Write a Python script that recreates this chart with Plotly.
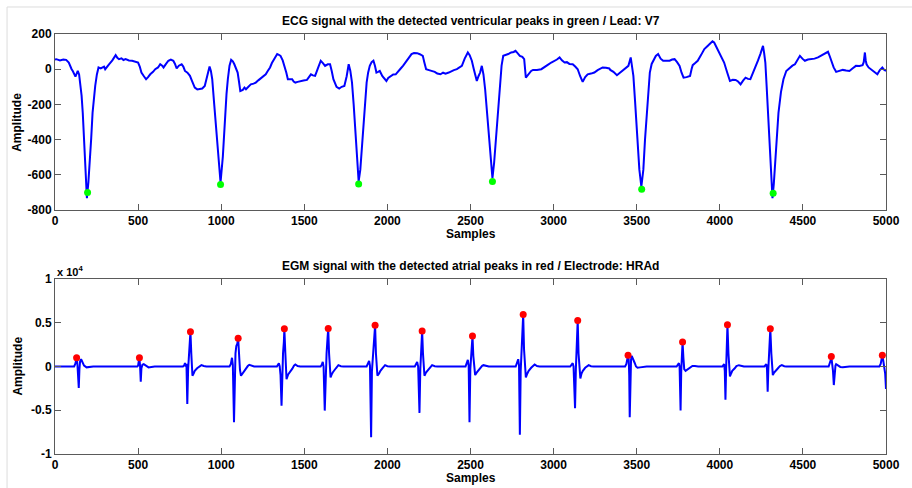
import plotly.graph_objects as go

# ---------------- ECG lead V7 (top panel) ----------------
ecg_samples = [
    0, 8, 30, 50, 67, 83, 100, 107, 123, 137, 145, 151, 160, 167, 175, 183, 192, 201, 210, 218,
    226, 234, 242, 252, 262, 275, 286, 295, 302, 312, 325, 345, 365, 375, 385, 400, 412, 425, 445, 464,
    485, 500, 510, 520, 535, 548, 560, 573, 590, 603, 620, 633, 645, 653, 668, 682, 697, 712, 722, 732,
    745, 762, 772, 782, 797, 812, 826, 841, 856, 871, 886, 901, 916, 930, 938, 946, 958, 970, 986, 996,
    1010, 1024, 1032, 1040, 1050, 1060, 1070, 1079, 1090, 1099, 1107, 1115, 1130, 1140, 1149, 1165, 1178, 1195, 1208, 1225,
    1238, 1255, 1268, 1280, 1294, 1305, 1317, 1327, 1337, 1347, 1357, 1370, 1381, 1392, 1401, 1415, 1427, 1436, 1446, 1460,
    1476, 1495, 1516, 1528, 1540, 1552, 1565, 1580, 1599, 1612, 1625, 1641, 1655, 1665, 1675, 1694, 1710, 1725, 1741, 1755,
    1767, 1777, 1787, 1797, 1807, 1821, 1827, 1837, 1855, 1865, 1875, 1884, 1894, 1905, 1916, 1925, 1934, 1944, 1954, 1970,
    1982, 1994, 2005, 2020, 2035, 2050, 2065, 2080, 2095, 2110, 2128, 2145, 2160, 2179, 2195, 2213, 2222, 2233, 2250, 2269,
    2285, 2300, 2319, 2335, 2350, 2369, 2385, 2400, 2418, 2433, 2448, 2465, 2484, 2495, 2508, 2520, 2530, 2538, 2548, 2558,
    2568, 2578, 2588, 2598, 2608, 2624, 2632, 2642, 2658, 2668, 2677, 2687, 2697, 2712, 2727, 2745, 2760, 2771, 2784, 2797,
    2812, 2823, 2833, 2850, 2865, 2876, 2900, 2926, 2945, 2965, 2986, 3005, 3020, 3036, 3050, 3066, 3080, 3095, 3115, 3130,
    3145, 3160, 3175, 3190, 3205, 3225, 3245, 3265, 3280, 3295, 3315, 3335, 3341, 3360, 3381, 3400, 3421, 3437, 3450, 3464,
    3472, 3480, 3490, 3500, 3516, 3528, 3540, 3550, 3560, 3570, 3579, 3590, 3603, 3615, 3629, 3644, 3659, 3680, 3698, 3713,
    3728, 3743, 3758, 3770, 3782, 3800, 3821, 3830, 3837, 3852, 3867, 3887, 3907, 3925, 3946, 3956, 3966, 3980, 3996, 4010,
    4026, 4045, 4061, 4078, 4095, 4110, 4125, 4140, 4155, 4170, 4184, 4200, 4214, 4230, 4244, 4252, 4260, 4267, 4274, 4282,
    4290, 4304, 4317, 4325, 4333, 4343, 4353, 4368, 4383, 4400, 4423, 4437, 4452, 4467, 4482, 4497, 4512, 4530, 4552, 4570,
    4591, 4605, 4621, 4635, 4651, 4661, 4671, 4685, 4700, 4720, 4740, 4760, 4780, 4800, 4819, 4840, 4859, 4866, 4873, 4878,
    4883, 4895, 4909, 4928, 4948, 4963, 4978, 4990, 5000,
]
ecg_amplitude = [
    55, 57, 50, 55, 53, 38, 0, -10, -42, -10, -30, -67, -150, -248, -390, -533, -733, -640, -533, -390,
    -248, -160, -95, -30, 10, 5, 10, 15, 0, 15, 28, 50, 80, 65, 57, 62, 52, 57, 50, 48,
    42, 38, 15, -19, -40, -57, -45, -29, -15, 0, 10, 28, 20, 10, 30, 48, 55, 48, 30, 4,
    20, 28, 15, -10, -20, -38, -70, -105, -115, -114, -110, -95, -40, 15, -10, -57, -200, -343, -571, -644,
    -495, -248, -140, -57, 20, 53, 45, 28, 5, -19, -70, -124, -118, -105, -114, -95, -86, -82, -76, -62,
    -53, -40, -29, -10, 10, 35, 57, 75, 86, 82, 76, 50, 19, -20, -57, -55, -57, -70, -76, -72,
    -67, -64, -61, -45, -29, -35, -38, 0, 48, 35, 19, 28, 28, -10, -57, -100, -110, -100, -95, -40,
    28, -10, -76, -200, -343, -571, -638, -571, -343, -200, -76, -20, 19, 40, 48, 20, -19, -15, -10, -40,
    -55, -67, -50, -38, -30, -29, -15, 4, 20, 38, 60, 86, 92, 91, 85, 76, 40, 0, -5, -10,
    -15, -25, -29, -20, -25, -19, -10, -5, 0, 10, 19, 60, 95, 80, 48, 0, -40, -67, -40, -19,
    19, -30, -114, -220, -343, -533, -619, -533, -343, -200, -76, 20, 76, 80, 86, 95, 98, 105, 90, 76,
    70, 57, -48, -25, -10, -4, -5, 0, 10, 25, 38, 45, 55, 67, 50, 38, 40, 30, 28, 15,
    0, -40, -72, -45, -29, -25, -19, -5, 5, 10, 8, 4, -4, -15, -34, -20, 0, 10, 19, 67,
    20, -38, -180, -343, -571, -667, -571, -400, -248, -120, -19, 30, 57, 75, 86, 60, 48, 50, 48, 55,
    57, 40, 19, -20, -48, -45, -38, 0, 23, 35, 48, 80, 114, 130, 152, 158, 152, 125, 95, 65,
    38, -20, -67, -60, -61, -70, -86, -65, -48, -55, -57, -20, 10, 50, 86, 110, 133, 90, 38, -100,
    -248, -533, -733, -650, -533, -400, -248, -130, -57, -10, 10, 20, 28, 50, 76, 60, 48, 55, 57, 60,
    67, 75, 86, 90, 99, 75, 48, 10, -15, -8, -4, -8, -10, 5, 19, 18, 23, 40, 95, 50,
    28, 10, 0, -15, -29, -5, 10, -5, -10,
]

# detected ventricular peaks
v_peak_samples = [196, 996, 1827, 2632, 3530, 4321]
v_peak_amplitude = [-700, -655, -652, -638, -682, -705]

# ---------------- EGM electrode HRAd (bottom panel) ----------------
egm_samples = [
    0, 115, 122, 126, 131, 135, 138, 143, 147, 151, 157, 165, 175, 190, 210, 230,
    495, 500, 504, 508, 512, 516, 520, 526, 534, 545, 563, 580, 600,
    770, 778, 782, 787, 791, 796, 801, 806, 810, 815, 820, 824, 827, 834, 841, 855, 870, 881, 895, 911,
    1050, 1058, 1065, 1070, 1077, 1082, 1086, 1091, 1097, 1102, 1107, 1113, 1119, 1128, 1135, 1150, 1160, 1169, 1185, 1198,
    1335, 1343, 1347, 1352, 1357, 1363, 1368, 1372, 1377, 1380, 1386, 1390, 1393, 1403, 1413, 1428, 1438, 1446, 1460, 1475,
    1598, 1605, 1611, 1616, 1623, 1628, 1634, 1640, 1644, 1649, 1653, 1658, 1665, 1671, 1690, 1698, 1705, 1720, 1735,
    1875, 1883, 1890, 1895, 1902, 1907, 1912, 1916, 1921, 1926, 1931, 1935, 1940, 1950, 1958, 1972, 1980, 1986, 2000, 2015,
    2165, 2173, 2179, 2185, 2193, 2198, 2203, 2209, 2214, 2218, 2223, 2232, 2240, 2255, 2262, 2269, 2285, 2300,
    2470, 2477, 2484, 2489, 2494, 2499, 2504, 2508, 2512, 2517, 2522, 2528, 2537, 2545, 2560, 2570, 2578, 2595, 2610,
    2772, 2780, 2787, 2792, 2797, 2802, 2807, 2811, 2817, 2822, 2827, 2833, 2842, 2850, 2865, 2877, 2886, 2900, 2915,
    3100, 3108, 3115, 3120, 3129, 3134, 3139, 3142, 3145, 3150, 3155, 3161, 3168, 3176, 3190, 3202, 3211, 3225, 3240,
    3430, 3438, 3444, 3448, 3452, 3455, 3458, 3462, 3466, 3470, 3478, 3488, 3496, 3505, 3520, 3540, 3560,
    3740, 3748, 3754, 3758, 3764, 3768, 3771, 3773, 3776, 3781, 3786, 3794, 3810, 3825, 3835, 3850, 3870,
    4015, 4022, 4026, 4030, 4034, 4038, 4041, 4044, 4046, 4052, 4056, 4061, 4068, 4075, 4090, 4100, 4115, 4130, 4145,
    4268, 4275, 4280, 4284, 4288, 4292, 4296, 4300, 4304, 4310, 4314, 4319, 4327, 4335, 4350, 4362, 4373, 4388, 4400,
    4655, 4662, 4667, 4671, 4676, 4681, 4686, 4691, 4696, 4700, 4712, 4725, 4740, 4760, 4780,
    4960, 4968, 4974, 4978, 4984, 4990, 4995, 5000,
]
egm_amplitude = [
    0, 0, 300, 600, 1000, 200, -1000, -2460, -300, 600, 830, 500, 100, -100, -50, 0,
    0, 100, 600, 1000, 0, -1740, -200, 200, 270, 100, -100, -50, 0,
    0, 150, 400, 0, 300, -4280, -300, 1000, 3000, 3980, 1500, -500, -1060, -800, -490, -200, 50, 150, 50, 0,
    0, 300, 1000, 200, -6360, -200, 1500, 2350, 2600, 3220, 1000, -400, -1060, -800, -680, -250, 50, 190, 50, 0,
    0, 200, 380, 0, -1000, -4470, -500, 1500, 2800, 4300, 1500, -500, -1440, -900, -680, -250, 100, 230, 50, 0,
    0, 200, 530, 0, -5040, -300, 1500, 3300, 4340, 1500, -300, -1250, -900, -680, -200, 50, 150, 30, 0,
    0, 300, 640, 100, -8070, -500, 1200, 2540, 3000, 4700, 1500, -300, -1060, -800, -490, -150, 80, 150, 30, 0,
    0, 250, 530, 0, -5300, -300, 1500, 4050, 1500, -300, -1060, -700, -490, -150, 50, 150, 30, 0,
    0, 300, 760, 100, -6360, -300, 1500, 2500, 3480, 1200, -300, -980, -700, -490, -150, 80, 150, 30, 0,
    0, 400, 830, 100, -7800, -500, 1500, 3500, 5950, 2000, -300, -1250, -800, -490, -150, 100, 230, 50, 0,
    0, 200, 380, 0, -4770, -300, 1500, 3000, 5270, 1500, -300, -1360, -800, -490, -150, 80, 150, 30, 0,
    0, 300, 900, 1290, 800, -1000, -5800, -500, 800, 1210, 900, 400, 0, -150, -100, -50, 0,
    0, 200, 380, 0, -5040, -500, 1500, 2300, 2800, 1000, -300, -490, -250, -50, 60, 50, 0,
    0, 150, 270, -500, -3790, -300, 1500, 3500, 4770, 1500, -300, -1140, -800, -490, -200, 50, 150, 30, 0,
    0, 150, 270, -300, -2880, -300, 1500, 3300, 4320, 1500, -300, -980, -700, -490, -200, 60, 150, 30, 0,
    0, 300, 700, 1140, 500, -500, -2120, -300, 100, 270, 150, -50, -80, -40, 0,
    0, 300, 900, 1290, 600, 0, -800, -2580,
]

# detected atrial peaks
a_peak_samples = [130, 508, 815, 1102, 1380, 1644, 1926, 2209, 2512, 2817, 3145, 3448, 3776, 4046, 4304, 4671, 4978]
a_peak_amplitude = [1000, 1000, 3980, 3220, 4300, 4340, 4700, 4050, 3480, 5950, 5270, 1290, 2800, 4770, 4320, 1140, 1290]

# tick labels
x_ticks = [0, 500, 1000, 1500, 2000, 2500, 3000, 3500, 4000, 4500, 5000]
ecg_y_ticks = [-800, -600, -400, -200, 0, 200]
egm_y_ticks = [-10000, -5000, 0, 5000, 10000]
egm_y_labels = ["-1", "-0.5", "0", "0.5", "1"]

FONT = "Liberation Sans, Arial, sans-serif"
AXIS_COLOR = "#5a5a5a"

fig = go.Figure()
fig.add_trace(go.Scatter(x=ecg_samples, y=ecg_amplitude, mode="lines",
                         line=dict(color="#0000ff", width=2), xaxis="x", yaxis="y",
                         showlegend=False))
fig.add_trace(go.Scatter(x=v_peak_samples, y=v_peak_amplitude, mode="markers",
                         marker=dict(color="#00ff00", size=7), xaxis="x", yaxis="y",
                         showlegend=False))
fig.add_trace(go.Scatter(x=egm_samples, y=egm_amplitude, mode="lines",
                         line=dict(color="#0000ff", width=2), xaxis="x2", yaxis="y2",
                         showlegend=False))
fig.add_trace(go.Scatter(x=a_peak_samples, y=a_peak_amplitude, mode="markers",
                         marker=dict(color="#ff0000", size=7), xaxis="x2", yaxis="y2",
                         showlegend=False))

tick_font = dict(family=FONT, size=12, color="#000000", weight="bold")
common_axis = dict(showgrid=False, zeroline=False, showline=True, linecolor=AXIS_COLOR,
                   linewidth=1, mirror="ticks", ticks="inside", ticklen=6,
                   tickcolor=AXIS_COLOR, tickwidth=1, tickfont=tick_font)

fig.update_layout(
    width=912, height=488,
    margin=dict(l=55, r=16, t=34, b=34),
    paper_bgcolor="white", plot_bgcolor="white",
    xaxis=dict(domain=[0, 1], anchor="y", range=[0, 5000], tickvals=x_ticks,
               ticktext=[str(v) for v in x_ticks], **common_axis),
    yaxis=dict(domain=[0.581, 1.0], anchor="x", range=[-800, 200], tickvals=ecg_y_ticks,
               ticktext=[str(v) for v in ecg_y_ticks], **common_axis),
    xaxis2=dict(domain=[0, 1], anchor="y2", range=[0, 5000], tickvals=x_ticks,
                ticktext=[str(v) for v in x_ticks], **common_axis),
    yaxis2=dict(domain=[0.0, 0.4167], anchor="x2", range=[-10000, 10000], tickvals=egm_y_ticks,
                ticktext=egm_y_labels, **common_axis),
)


def label(text, x, y, angle=0, xanchor="center", size=12):
    fig.add_annotation(text=f"<b>{text}</b>", x=x, y=y, xref="paper", yref="paper",
                       showarrow=False, textangle=angle, xanchor=xanchor, yanchor="middle",
                       font=dict(family=FONT, size=size, color="#000000"))


label("ECG signal with the detected ventricular peaks in green / Lead: V7", 0.5, 1.031)
label("Samples", 0.5, 0.524)
label("Amplitude", -0.045, 0.790, angle=-90)
label("EGM signal with the detected atrial peaks in red / Electrode: HRAd", 0.5, 0.4476)
label("Samples", 0.5, -0.057)
label("Amplitude", -0.045, 0.2095, angle=-90)
label("x 10<sup>4</sup>", 0.0, 0.4357, xanchor="left", size=11)

# light window frame around the figure
fig.add_shape(type="rect", xref="paper", yref="paper", x0=-0.0577, y0=-0.2, x1=1.2, y1=1.0643,
              line=dict(color="#dcdcdc", width=1), layer="below")

fig.write_html("out.html")
